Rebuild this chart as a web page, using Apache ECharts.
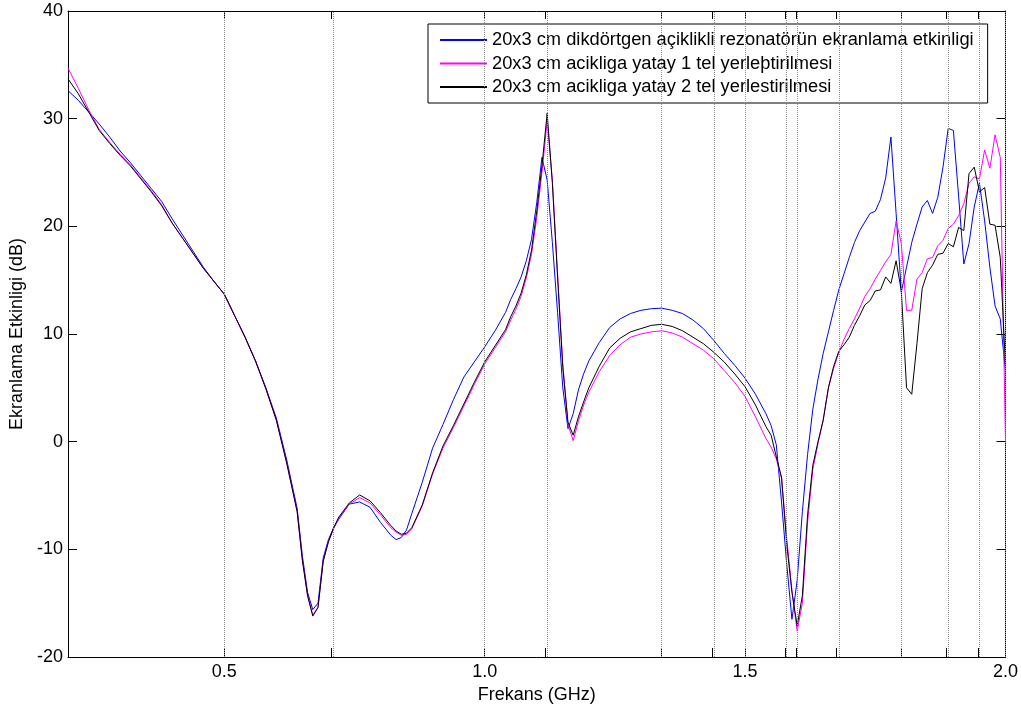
<!DOCTYPE html>
<html>
<head>
<meta charset="utf-8">
<title>Ekranlama Etkinligi</title>
<script src="https://cdn.jsdelivr.net/npm/echarts@6/dist/echarts.min.js"></script>
<style>
html, body { margin:0; padding:0; background:#fff; }
#main { width:1021px; height:711px; }
</style>
</head>
<body>
<div id="main"></div>
<script>
// frekans noktalari (GHz)
var freqs = [
    0.20,0.22,0.24,0.26,0.28,0.30,0.32,0.34,0.36,0.38,0.40,0.42,0.44,0.46,0.48,0.50,0.52,0.54,0.56,0.58,0.60,0.62,0.64,
    0.65,0.66,0.67,0.68,0.69,0.70,0.71,0.72,
    0.74,0.76,0.78,0.80,
    0.82,0.83,0.84,0.85,0.86,
    0.88,0.90,0.92,0.94,0.96,0.98,1.00,1.02,1.04,
    1.05,1.06,1.07,1.08,1.09,1.10,1.11,1.12,1.13,1.14,1.15,1.16,1.17,1.18,1.19,1.20,
    1.22,1.24,1.26,1.28,1.30,1.32,1.34,1.36,1.38,1.40,1.42,1.44,1.46,1.48,1.50,1.52,1.54,
    1.55,1.56,1.57,1.58,1.59,1.60,1.61,1.62,1.63,1.64,1.65,1.66,1.67,1.68,1.69,1.70,1.71,1.72,1.73,1.74,
    1.75,1.76,1.77,1.78,1.79,1.80,1.81,1.82,1.83,1.84,1.85,1.86,1.87,1.88,1.89,1.90,1.91,1.92,1.93,1.94,
    1.95,1.96,1.97,1.98,1.99,2.00
];

// 20x3 cm dikdortgen aciklik (mavi)
var blueVals = [
    32.6,31.7,30.6,29.5,28.3,27.0,25.9,24.7,23.5,22.3,20.7,19.2,17.7,16.2,14.9,13.7,11.7,9.7,7.5,5.0,2.2,-1.7,-6.2,
    -10.6,-14.0,-15.6,-15.0,-10.8,-9.1,-8.0,-7.2,
    -5.8,-5.6,-6.1,-7.5,
    -8.7,-9.1,-8.9,-8.2,-6.7,
    -3.8,-0.6,1.6,3.9,6.0,7.4,8.8,10.3,12.0,
    13.2,14.2,15.3,16.8,18.8,22.2,26.4,24.3,18.5,12.0,5.0,1.2,2.6,4.8,6.3,7.5,
    9.2,10.6,11.4,11.9,12.2,12.35,12.4,12.2,11.9,11.3,10.5,9.4,8.2,7.1,5.9,4.4,2.6,
    1.5,-0.3,-5.6,-11.4,-16.5,-12.9,-6.5,-1.2,3.0,5.8,8.2,10.2,12.2,14.1,15.6,17.1,18.5,19.6,20.4,21.2,
    21.4,22.5,24.5,28.3,21.2,13.9,16.2,18.5,20.2,21.8,22.4,21.2,22.7,25.5,29.1,28.9,22.8,16.5,18.4,21.8,
    24.0,20.5,16.2,12.6,11.4,6.5
];

// yatay 1 tel (magenta)
var magentaVals = [
    34.7,32.8,30.8,29.0,27.8,26.7,25.7,24.5,23.3,22.0,20.3,18.9,17.5,16.1,14.9,13.7,11.7,9.7,7.5,4.9,2.0,-2.0,-6.5,
    -11.0,-14.3,-16.1,-15.4,-11.1,-9.3,-8.1,-7.1,
    -5.8,-5.2,-5.7,-6.8,
    -8.0,-8.4,-8.7,-8.6,-8.1,
    -6.0,-3.0,-0.6,1.3,3.3,5.3,7.2,8.7,10.2,
    11.3,12.3,13.5,15.2,17.4,20.8,25.0,29.8,24.3,15.6,7.2,1.6,0.1,1.9,3.4,4.6,
    6.5,8.0,9.0,9.7,10.0,10.2,10.3,10.1,9.7,9.1,8.5,7.7,6.6,5.5,4.2,2.3,0.3,
    -0.5,-1.6,-3.4,-9.0,-13.8,-17.6,-15.0,-7.5,-2.6,-0.2,2.0,5.0,6.8,8.3,9.5,10.5,11.4,12.4,13.5,14.2,
    15.1,15.9,16.7,17.4,20.5,18.4,12.2,12.2,15.1,15.7,17.0,17.1,18.2,18.7,19.8,20.2,21.0,22.1,24.0,24.6,
    24.4,27.1,25.4,28.5,26.4,0.0
];

// yatay 2 tel (siyah)
var blackVals = [
    33.7,32.3,30.6,28.9,27.7,26.6,25.6,24.4,23.2,21.9,20.3,18.9,17.5,16.1,14.9,13.7,11.7,9.7,7.5,4.9,2.0,-2.0,-6.5,
    -11.0,-14.3,-16.2,-15.4,-11.1,-9.3,-8.0,-7.0,
    -5.7,-4.95,-5.5,-6.6,
    -7.8,-8.3,-8.6,-8.5,-8.0,
    -5.9,-2.9,-0.4,1.5,3.5,5.5,7.4,8.9,10.4,
    11.6,12.6,13.8,15.5,17.8,21.4,25.6,30.5,24.0,15.3,6.9,1.8,0.6,2.3,3.7,5.0,
    7.0,8.7,9.6,10.2,10.5,10.8,10.9,10.7,10.3,9.7,9.1,8.3,7.4,6.3,5.1,3.4,1.4,
    0.6,-1.4,-3.3,-9.5,-14.0,-17.1,-14.3,-6.8,-2.2,0.0,2.0,5.0,7.0,8.4,9.0,9.7,10.8,11.7,12.7,13.1,
    14.0,14.1,15.3,14.7,16.8,14.0,5.0,4.4,9.1,14.2,15.7,16.4,17.4,17.5,18.4,18.1,19.9,19.6,24.9,25.5,
    23.2,23.6,20.2,20.1,17.1,7.0
];

// dikey grid cizgileri ve tick yerleri (GHz)
var gridFreqs = [0.5, 0.706, 1.0, 1.116, 1.34, 1.437, 1.5, 1.578, 1.598, 1.675, 1.8, 1.886, 1.947, 2.0];
var xLabelVals = [0.5, 1.0, 1.5, 2.0];

var seriesNames = [
    '20x3 cm dikdörtgen açiklikli rezonatörün ekranlama etkinligi',
    '20x3 cm acikliga yatay 1 tel yerleþtirilmesi',
    '20x3 cm acikliga yatay 2 tel yerlestirilmesi'
];
var seriesColors = ['#0000ff', '#ff00ff', '#000000'];

var FONT = '"Liberation Sans", Arial, Helvetica, sans-serif';

function toPairs(vals){
    var out = [];
    for (var i = 0; i < freqs.length; i++) {
        out.push([freqs[i], vals[i]]);
    }
    return out;
}

function lineSeries(idx, vals){
    return {
        name: seriesNames[idx],
        type: 'line',
        data: toPairs(vals),
        symbol: 'none',
        color: seriesColors[idx],
        itemStyle: { color: seriesColors[idx] },
        lineStyle: { color: seriesColors[idx], width: 1 },
        z: 3,
        silent: true
    };
}

var chart = echarts.init(document.getElementById('main'));

var option = {
    animation: false,
    backgroundColor: '#fff',
    textStyle: { fontFamily: FONT },
    grid: { left: 68, right: 15, top: 11, bottom: 54 },
    legend: {
        orient: 'vertical',
        left: 428,
        top: 24,
        data: seriesNames,
        selectedMode: false,
        backgroundColor: '#fff',
        borderColor: '#000',
        borderWidth: 1,
        padding: [6, 14, 6, 12],
        icon: 'rect',
        itemWidth: 47,
        itemHeight: 2,
        itemGap: 3.5,
        textStyle: { fontFamily: FONT, fontSize: 18.3, color: '#000', lineHeight: 20 }
    },
    xAxis: [{
        type: 'value',
        min: 0.2,
        max: 2.0,
        name: 'Frekans (GHz)',
        nameLocation: 'middle',
        nameGap: 24,
        nameTextStyle: { fontFamily: FONT, fontSize: 18, color: '#000' },
        axisLine: { show: true, onZero: false, lineStyle: { color: '#000', width: 1 } },
        axisTick: { show: true, inside: true, length: 9, customValues: gridFreqs, lineStyle: { color: '#000' } },
        axisLabel: {
            customValues: xLabelVals,
            margin: 6,
            fontFamily: FONT, fontSize: 18, color: '#000',
            formatter: function(v){ return v.toFixed(1); }
        },
        splitLine: { show: false }
    }, {
        type: 'value',
        position: 'top',
        min: 0.2,
        max: 2.0,
        axisLine: { show: true, onZero: false, lineStyle: { color: '#000', width: 1 } },
        axisTick: { show: true, inside: true, length: 8, customValues: gridFreqs, lineStyle: { color: '#000' } },
        axisLabel: { show: false },
        splitLine: { show: false }
    }],
    yAxis: [{
        type: 'value',
        min: -20,
        max: 40,
        interval: 10,
        name: 'Ekranlama Etkinligi (dB)',
        nameLocation: 'middle',
        nameGap: 41,
        nameTextStyle: { fontFamily: FONT, fontSize: 18, color: '#000' },
        axisLine: { show: true, onZero: false, lineStyle: { color: '#000', width: 1 } },
        axisTick: { show: true, inside: true, length: 9, lineStyle: { color: '#000' } },
        axisLabel: { margin: 5, fontFamily: FONT, fontSize: 18, color: '#000' },
        splitLine: { show: false }
    }, {
        type: 'value',
        position: 'right',
        min: -20,
        max: 40,
        interval: 10,
        axisLine: { show: true, onZero: false, lineStyle: { color: '#000', width: 1 } },
        axisTick: { show: true, inside: true, length: 9, lineStyle: { color: '#000' } },
        axisLabel: { show: false },
        splitLine: { show: false }
    }],
    series: [
        {
            // sadece grid cizgileri icin
            name: 'grid',
            type: 'line',
            data: [[0.2, 0], [2.0, 0]],
            symbol: 'none',
            lineStyle: { opacity: 0 },
            silent: true,
            z: 1,
            markLine: {
                silent: true,
                animation: false,
                symbol: ['none', 'none'],
                label: { show: false },
                emphasis: { disabled: true },
                lineStyle: { color: '#8c8c8c', type: 'dotted', width: 1 },
                data: gridFreqs.map(function(f){ return { xAxis: f }; })
            }
        },
        lineSeries(0, blueVals),
        lineSeries(1, magentaVals),
        lineSeries(2, blackVals)
    ]
};

chart.setOption(option);
</script>
</body>
</html>
